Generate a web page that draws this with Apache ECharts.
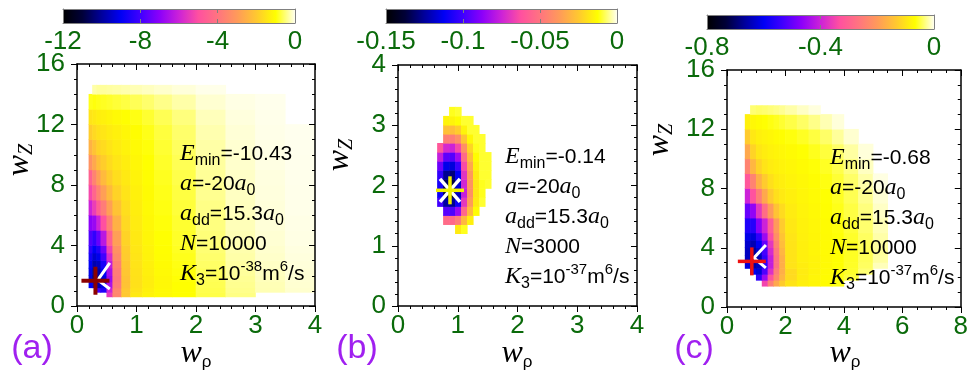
<!DOCTYPE html>
<html><head><meta charset="utf-8">
<script src="https://cdn.jsdelivr.net/npm/echarts@6/dist/echarts.min.js"></script>
<style>html,body{margin:0;padding:0;background:#fff}#c{width:971px;height:378px}</style>
</head><body><div id="c"></div>
<script>
// ---------- colour palette (colorbar stops, evenly spaced) ----------
const palette = ['#000000','#000038','#00009c','#0000f5','#4000ff','#8c00fa','#cc22d8','#ff50a0','#ff7480','#ff9a5a','#ffc830','#ffff00','#fffff0'];

// ---------- panel (a) ----------
const colorTicksA = [-12, -8, -4, 0];
const xTicksA = [0, 1, 2, 3, 4];
const yTicksA = [0, 4, 8, 12, 16];
const xEdgesA = [0.2, 0.26, 0.33, 0.4, 0.5, 0.6, 0.75, 0.9, 1.1, 1.3, 1.6, 2.0, 2.5, 3.0, 3.5, 4.0];
const yEdgesA = [0.6, 0.9, 1.2, 1.6, 2.0, 2.5, 3.0, 3.5, 4.0, 5.0, 6.0, 7.0, 8.0, 9.0, 10.0, 11.0, 12.0, 13.0, 14.0, 14.6];
const energyA = [
  [null,null,null,null,-5.5,-3.5,-2.0,-1.4,-1.2,-1.1,-1.0,-0.7,-0.45,null,null],
  [null,null,-8,-8.5,-6,-3.5,-2,-1.5,-1.25,-1.1,-1.0,-0.68,-0.42,-0.25,-0.14],
  [-9,-9.5,-9.8,-9.2,-6.5,-3.8,-2.1,-1.55,-1.3,-1.12,-1.0,-0.66,-0.4,-0.24,-0.13],
  [-9.3,-10.4,-10.1,-9.3,-6.8,-3.9,-2.1,-1.55,-1.3,-1.12,-0.98,-0.64,-0.38,-0.22,-0.12],
  [-9.2,-10.1,-9.9,-9.0,-6.6,-3.8,-2.05,-1.52,-1.28,-1.1,-0.95,-0.62,-0.35,-0.2,-0.11],
  [-9.0,-9.8,-9.6,-8.6,-6.2,-3.6,-2.0,-1.5,-1.25,-1.07,-0.92,-0.58,-0.33,-0.18,-0.09],
  [-8.7,-9.4,-9.1,-8.0,-5.8,-3.4,-1.95,-1.47,-1.22,-1.04,-0.89,-0.55,-0.3,-0.16,-0.08],
  [-8.3,-9.0,-8.5,-7.4,-5.3,-3.2,-1.9,-1.44,-1.2,-1.02,-0.86,-0.52,-0.28,-0.14,-0.065],
  [-7.8,-8.2,-7.5,-6.3,-4.6,-2.9,-1.8,-1.4,-1.17,-0.99,-0.83,-0.5,-0.25,-0.12,-0.05],
  [-7.0,-6.8,-6.0,-5.0,-3.7,-2.5,-1.7,-1.35,-1.13,-0.96,-0.8,-0.47,-0.23,-0.1,-0.04],
  [-6.0,-5.4,-4.6,-3.8,-2.9,-2.1,-1.6,-1.3,-1.1,-0.93,-0.76,-0.44,-0.21,-0.09,-0.03],
  [-5.2,-4.4,-3.6,-2.9,-2.3,-1.8,-1.5,-1.25,-1.07,-0.9,-0.73,-0.4,-0.19,-0.08,-0.025],
  [-4.5,-3.6,-2.9,-2.3,-1.9,-1.6,-1.4,-1.2,-1.04,-0.87,-0.69,-0.37,-0.17,-0.07,-0.02],
  [-3.2,-2.7,-2.2,-1.9,-1.65,-1.45,-1.3,-1.15,-1.0,-0.83,-0.65,-0.34,-0.15,-0.055,-0.015],
  [-2.5,-2.1,-1.8,-1.65,-1.5,-1.35,-1.22,-1.1,-0.96,-0.79,-0.61,-0.31,-0.13,-0.045,-0.012],
  [-1.9,-1.7,-1.55,-1.45,-1.35,-1.25,-1.15,-1.03,-0.9,-0.74,-0.56,-0.27,-0.11,-0.035,-0.01],
  [-1.5,-1.4,-1.3,-1.25,-1.18,-1.1,-1.02,-0.92,-0.8,-0.65,-0.48,-0.22,-0.08,-0.025,null],
  [-0.9,-0.95,-0.9,-0.86,-0.82,-0.77,-0.72,-0.64,-0.55,-0.43,-0.3,-0.13,-0.05,-0.015,null],
  [null,-0.3,-0.35,-0.35,-0.33,-0.31,-0.28,-0.24,-0.2,-0.15,-0.09,-0.03,null,null,null]
];
const plusA = [[0.31, 1.67]];
const chevronA = [[0.35, 1.72]];

// ---------- panel (b) ----------
const colorTicksB = [-0.15, -0.1, -0.05, 0];
const xTicksB = [0, 1, 2, 3, 4];
const yTicksB = [0, 1, 2, 3, 4];
const xEdgesB = [0.66, 0.76, 0.86, 0.96, 1.06, 1.16, 1.26, 1.36, 1.46, 1.56];
const yEdgesB = [1.2, 1.35, 1.5, 1.65, 1.8, 1.95, 2.1, 2.25, 2.4, 2.55, 2.7, 2.85, 3.0, 3.15, 3.3];
const energyB = [
  [null,null,null,-0.017,-0.011,null,null,null,null],
  [null,-0.053,-0.054,-0.047,-0.029,-0.016,null,null,null],
  [null,-0.096,-0.098,-0.085,-0.054,-0.029,-0.013,null,null],
  [-0.1,-0.124,-0.126,-0.11,-0.069,-0.037,-0.017,-0.01,null],
  [-0.11,-0.136,-0.139,-0.12,-0.076,-0.041,-0.018,-0.011,null],
  [-0.108,-0.133,-0.136,-0.118,-0.074,-0.04,-0.018,-0.011,-0.01],
  [-0.103,-0.126,-0.129,-0.112,-0.07,-0.038,-0.017,-0.01,-0.01],
  [-0.093,-0.114,-0.116,-0.101,-0.064,-0.034,-0.015,-0.01,-0.01],
  [-0.077,-0.095,-0.097,-0.084,-0.053,-0.028,-0.013,-0.01,-0.01],
  [-0.06,-0.073,-0.075,-0.065,-0.041,-0.022,-0.011,-0.01,null],
  [null,-0.046,-0.047,-0.041,-0.026,-0.014,-0.01,-0.01,null],
  [null,-0.027,-0.028,-0.024,-0.015,-0.01,-0.01,null,null],
  [null,-0.015,-0.015,-0.013,-0.01,-0.01,null,null,null],
  [null,null,-0.011,-0.01,null,null,null,null,null]
];
const plusB = [[0.87, 1.92]];
const crossB = [[0.87, 1.92]];

// ---------- panel (c) ----------
const colorTicksC = [-0.8, -0.4, 0];
const xTicksC = [0, 2, 4, 6, 8];
const yTicksC = [0, 4, 8, 12, 16];
const xEdgesC = [0.62, 0.8, 1.0, 1.2, 1.4, 1.6, 1.8, 2.0, 2.4, 2.8, 3.2, 3.6, 4.0, 4.5, 5.0, 5.5, 6.0];
const yEdgesC = [1.4, 1.8, 2.2, 2.6, 3.0, 3.5, 4.0, 4.5, 5.0, 6.0, 7.0, 8.0, 9.0, 10.0, 11.0, 12.0, 13.0, 13.6];
const energyC = [
  [null,null,null,-0.35,-0.25,-0.18,-0.13,-0.1,-0.085,-0.078,-0.07,-0.06,null,null,null,null],
  [null,null,-0.55,-0.45,-0.33,-0.23,-0.16,-0.11,-0.088,-0.078,-0.07,-0.062,-0.05,null,null,null],
  [null,-0.6,-0.62,-0.52,-0.38,-0.25,-0.17,-0.11,-0.09,-0.08,-0.072,-0.065,-0.055,-0.035,null,null],
  [-0.62,-0.66,-0.64,-0.55,-0.41,-0.27,-0.17,-0.1,-0.088,-0.08,-0.073,-0.066,-0.056,-0.04,-0.015,null],
  [-0.64,-0.68,-0.65,-0.55,-0.41,-0.27,-0.17,-0.1,-0.085,-0.08,-0.073,-0.066,-0.057,-0.042,-0.022,null],
  [-0.64,-0.67,-0.63,-0.53,-0.39,-0.26,-0.16,-0.1,-0.085,-0.078,-0.072,-0.066,-0.057,-0.043,-0.024,null],
  [-0.63,-0.65,-0.6,-0.5,-0.37,-0.24,-0.15,-0.1,-0.085,-0.078,-0.072,-0.066,-0.057,-0.042,-0.022,null],
  [-0.61,-0.62,-0.55,-0.45,-0.34,-0.22,-0.14,-0.098,-0.084,-0.077,-0.071,-0.065,-0.055,-0.04,-0.02,null],
  [-0.57,-0.56,-0.47,-0.4,-0.31,-0.2,-0.13,-0.095,-0.082,-0.076,-0.07,-0.063,-0.052,-0.036,-0.016,null],
  [-0.5,-0.46,-0.37,-0.28,-0.2,-0.14,-0.11,-0.09,-0.08,-0.074,-0.068,-0.06,-0.048,-0.032,-0.012,null],
  [-0.4,-0.33,-0.25,-0.18,-0.13,-0.105,-0.092,-0.085,-0.078,-0.072,-0.066,-0.057,-0.044,-0.027,-0.008,null],
  [-0.32,-0.24,-0.17,-0.13,-0.105,-0.092,-0.086,-0.08,-0.075,-0.069,-0.062,-0.052,-0.038,-0.02,-0.004,null],
  [-0.24,-0.16,-0.12,-0.1,-0.09,-0.085,-0.08,-0.076,-0.071,-0.065,-0.057,-0.046,-0.031,-0.013,null,null],
  [-0.18,-0.12,-0.097,-0.088,-0.083,-0.079,-0.075,-0.071,-0.066,-0.059,-0.05,-0.038,-0.022,-0.006,null,null],
  [-0.13,-0.095,-0.085,-0.08,-0.076,-0.072,-0.068,-0.063,-0.057,-0.049,-0.038,-0.024,-0.009,null,null,null],
  [-0.085,-0.075,-0.07,-0.066,-0.062,-0.058,-0.053,-0.047,-0.039,-0.029,-0.017,-0.006,null,null,null,null],
  [null,-0.035,-0.038,-0.036,-0.033,-0.03,-0.026,-0.02,-0.012,-0.005,null,null,null,null,null,null]
];
const plusC = [[0.85, 3.08]];
const chevronC = [[0.92, 3.31]];

// ---------- annotation texts ----------
const textA = ['-10.43', '-20', '15.3', '10000', '-38'];
const textB = ['-0.14', '-20', '15.3', '3000', '-37'];
const textC = ['-0.68', '-20', '15.3', '10000', '-37'];

// ================= build =================
const FONT = 'Liberation Sans';
const SERIF = 'Liberation Serif';
const GREEN = '#0a6a0a';
const GREY = '#808080';
const fmt = v => String(parseFloat(Number(v).toFixed(6)));

function buildCells(xE, yE, rows) {
  const out = [];
  rows.forEach((row, j) => row.forEach((v, i) => {
    if (v !== null) out.push([xE[i], xE[i + 1], yE[j], yE[j + 1], v]);
  }));
  return out;
}
function renderCell(params, api) {
  const p0 = api.coord([api.value(0), api.value(2)]);
  const p1 = api.coord([api.value(1), api.value(3)]);
  return { type: 'rect', shape: { x: p0[0] - 0.3, y: p1[1] - 0.3, width: p1[0] - p0[0] + 0.6, height: p0[1] - p1[1] + 0.6 },
    style: { fill: api.visual('color') } };
}
const gradStops = palette.map((c, i) => ({ offset: i / (palette.length - 1), color: c }));
function renderBar(params, api) {
  const a = api.coord([api.value(0), api.value(2)]);
  const b = api.coord([api.value(1), api.value(3)]);
  return { type: 'rect', shape: { x: a[0], y: b[1], width: b[0] - a[0], height: a[1] - b[1] },
    style: { fill: new echarts.graphic.LinearGradient(0, 0, 1, 0, gradStops) } };
}

const grids = [
  { left: 77, top: 64, width: 238, height: 242 },
  { left: 398, top: 65, width: 239, height: 241 },
  { left: 727, top: 70, width: 235, height: 237 },
  { left: 63, top: 9, width: 232, height: 14 },
  { left: 386, top: 9, width: 231, height: 14 },
  { left: 707, top: 15, width: 227, height: 14 }
];

const xAxes = [], yAxes = [];
function mainAxes(g, xT, yT, xMinor, yMinor) {
  const base = (pos, ticks, minor, labels, inside, isX) => ({
    gridIndex: g, type: 'value', position: pos, z: 5,
    min: ticks[0], max: ticks[ticks.length - 1], interval: ticks[1] - ticks[0],
    axisLine: { show: true, onZero: false, lineStyle: { color: '#000', width: 1.5 } },
    axisTick: { show: true, inside: inside, length: 6, lineStyle: { color: '#000', width: 1 } },
    minorTick: { show: true, splitNumber: minor, length: 3, lineStyle: { color: '#000', width: 1 } },
    splitLine: { show: false }, minorSplitLine: { show: false },
    axisLabel: { show: labels, color: GREEN, fontSize: 26, fontFamily: FONT, margin: isX ? 7 : 12, formatter: fmt }
  });
  xAxes.push(base('bottom', xT, xMinor, true, false, true));
  xAxes.push(base('top', xT, xMinor, false, true, true));
  yAxes.push(base('left', yT, yMinor, true, false, false));
  yAxes.push(base('right', yT, yMinor, false, true, false));
}
function barAxes(g, ticks) {
  const xb = (pos, labels) => ({
    gridIndex: g, type: 'value', position: pos, z: 5,
    min: ticks[0], max: ticks[ticks.length - 1], interval: ticks[1] - ticks[0],
    axisLine: { show: true, onZero: false, lineStyle: { color: GREY, width: 1 } },
    axisTick: { show: true, inside: true, length: 4, lineStyle: { color: GREY } },
    splitLine: { show: false },
    axisLabel: { show: labels, color: GREEN, fontSize: 26, fontFamily: FONT, margin: 6, formatter: fmt }
  });
  xAxes.push(xb('bottom', true));
  xAxes.push(xb('top', false));
  const yb = pos => ({ gridIndex: g, type: 'value', position: pos, min: 0, max: 1, z: 5,
    axisLine: { show: true, onZero: false, lineStyle: { color: GREY, width: 1 } },
    axisTick: { show: false }, axisLabel: { show: false }, splitLine: { show: false } });
  yAxes.push(yb('left'));
  yAxes.push(yb('right'));
}
mainAxes(0, xTicksA, yTicksA, 5, 4);
mainAxes(1, xTicksB, yTicksB, 5, 5);
mainAxes(2, xTicksC, yTicksC, 4, 4);
barAxes(3, colorTicksA);
barAxes(4, colorTicksB);
barAxes(5, colorTicksC);

const series = [];
const visualMaps = [];
function addPanel(g, xE, yE, rows, cticks) {
  const idx = series.length;
  series.push({ type: 'custom', xAxisIndex: 2 * g, yAxisIndex: 2 * g, clip: true, z: 1, silent: true,
    dimensions: ['x0', 'x1', 'y0', 'y1', 'E'], encode: { x: [0, 1], y: [2, 3] },
    renderItem: renderCell, data: buildCells(xE, yE, rows) });
  visualMaps.push({ type: 'continuous', show: false, seriesIndex: idx, dimension: 4,
    min: cticks[0], max: cticks[cticks.length - 1], inRange: { color: palette } });
}
addPanel(0, xEdgesA, yEdgesA, energyA, colorTicksA);
addPanel(1, xEdgesB, yEdgesB, energyB, colorTicksB);
addPanel(2, xEdgesC, yEdgesC, energyC, colorTicksC);

[colorTicksA, colorTicksB, colorTicksC].forEach((t, k) => {
  const g = 3 + k;
  series.push({ type: 'custom', xAxisIndex: 2 * g, yAxisIndex: 2 * g, z: 1, silent: true,
    encode: { x: [0, 1], y: [2, 3] }, renderItem: renderBar,
    data: [[t[0], t[t.length - 1], 0, 1]] });
});

// marker glyph shapes (pixel offsets from the data point)
const GLYPH_PLUS = [[[-14, 0], [14, 0]], [[0, -14], [0, 14]]];
const GLYPH_CROSS = [[[-10, -11.5], [10, 11.5]], [[10, -11.5], [-10, 11.5]]];
const GLYPH_CHEV_A = [[[12, -17], [0, 0], [12, 9]]];
const GLYPH_CHEV_C = [[[12, -13], [0, 0], [12, 10]]];
function marker(g, data, glyph, color, width) {
  series.push({ type: 'custom', xAxisIndex: 2 * g, yAxisIndex: 2 * g, z: 4, silent: true, clip: false,
    encode: { x: 0, y: 1 }, data: data,
    renderItem: (params, api) => {
      const p = api.coord([api.value(0), api.value(1)]);
      return { type: 'group', children: glyph.map(pts => ({
        type: 'polyline', shape: { points: pts.map(q => [p[0] + q[0], p[1] + q[1]]) },
        style: { stroke: color, lineWidth: width, fill: null, lineCap: 'butt', lineJoin: 'miter' } })) };
    } });
}
marker(0, chevronA, GLYPH_CHEV_A, '#ffffff', 3);
marker(0, plusA, GLYPH_PLUS, '#8b0000', 4);
marker(1, crossB, GLYPH_CROSS, '#ffffff', 3.5);
marker(1, plusB, GLYPH_PLUS, '#f2f200', 3.5);
marker(2, chevronC, GLYPH_CHEV_C, '#ffffff', 3);
marker(2, plusC, GLYPH_PLUS, '#ee1111', 3.5);

// ---------- text graphics ----------
const annoRich = {
  it: { fontFamily: SERIF, fontStyle: 'italic', fontSize: 24, lineHeight: 30, color: '#000' },
  n: { fontFamily: FONT, fontSize: 21, lineHeight: 30, color: '#000' },
  sub: { fontFamily: FONT, fontSize: 16, lineHeight: 12, verticalAlign: 'bottom', color: '#000' },
  sup: { fontFamily: FONT, fontSize: 15, lineHeight: 12, verticalAlign: 'top', color: '#000' }
};
function annoText(t) {
  return '{it|E}{sub|min}{n|=' + t[0] + '}\n' +
         '{it|a}{n|=' + t[1] + '}{it|a}{sub|0}\n' +
         '{it|a}{sub|dd}{n|=' + t[2] + '}{it|a}{sub|0}\n' +
         '{it|N}{n|=' + t[3] + '}\n' +
         '{it|K}{sub|3}{n|=10}{sup|' + t[4] + '}{n|m}{sup|6}{n|/s}';
}
const nameRich = {
  w: { fontFamily: SERIF, fontStyle: 'italic', fontSize: 32, lineHeight: 34, color: GREEN },
  z: { fontFamily: SERIF, fontStyle: 'italic', fontSize: 20, lineHeight: 14, verticalAlign: 'bottom', color: GREEN },
  r: { fontFamily: FONT, fontSize: 17, lineHeight: 12, verticalAlign: 'bottom', color: GREEN }
};
const graphics = [];
[[180, 139, textA], [505, 142, textB], [830, 143, textC]].forEach(([x, y, t]) => {
  graphics.push({ type: 'text', x: x, y: y, z: 10, silent: true,
    style: { text: annoText(t), rich: annoRich, align: 'left', verticalAlign: 'top' } });
});
[[20, 160], [340, 155], [660, 140]].forEach(([x, y]) => {
  graphics.push({ type: 'text', x: x, y: y, rotation: Math.PI / 2, z: 10, silent: true,
    style: { text: '{w|w}{z|Z}', rich: nameRich, align: 'center', verticalAlign: 'middle' } });
});
[[196, 354], [517, 354], [845, 354]].forEach(([x, y]) => {
  graphics.push({ type: 'text', x: x, y: y, z: 10, silent: true,
    style: { text: '{w|w}{r|ρ}', rich: nameRich, align: 'center', verticalAlign: 'middle' } });
});
[['(a)', 32], ['(b)', 357], ['(c)', 694]].forEach(([s, x]) => {
  graphics.push({ type: 'text', x: x, y: 349, z: 10, silent: true,
    style: { text: s, fontFamily: FONT, fontSize: 34, fill: '#a020f0', align: 'center', verticalAlign: 'middle' } });
});

const chart = echarts.init(document.getElementById('c'), null, { renderer: 'canvas' });
chart.setOption({
  animation: false,
  backgroundColor: '#ffffff',
  grid: grids,
  xAxis: xAxes,
  yAxis: yAxes,
  visualMap: visualMaps,
  series: series,
  graphic: graphics
});
</script>
</body></html>
